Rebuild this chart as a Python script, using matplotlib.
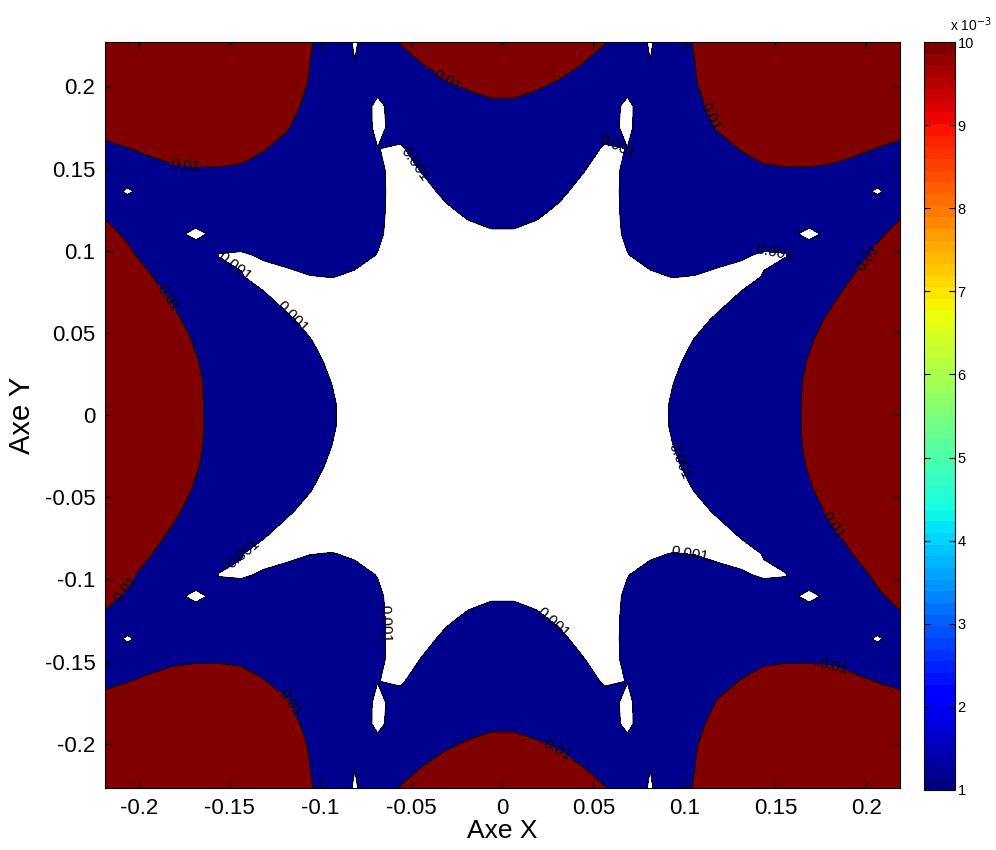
import numpy as np
import matplotlib
matplotlib.use("Agg")
import matplotlib.pyplot as plt
from matplotlib.colors import ListedColormap, Normalize
from matplotlib.cm import ScalarMappable

plt.rcParams['font.family'] = ['Liberation Sans', 'DejaVu Sans']

# log10(|B| / 1e-3) read off the picture on the x>=0, y>=0 quarter of the 36x36 grid
# rows go from y~0 upward, columns from x~0 to the right edge
log_b_quarter = [
    [-1.5, -1.32, -1.09, -0.86, -0.64, -0.41, -0.18, 0.04, 0.20, 0.37, 0.54, 0.71, 0.88, 1.065, 1.30, 1.50, 1.75, 1.98],
    [-1.5, -1.37, -1.14, -0.91, -0.69, -0.46, -0.23, -0.006, 0.17, 0.34, 0.52, 0.69, 0.87, 1.056, 1.29, 1.51, 1.74, 1.97],
    [-1.32, -1.30, -1.10, -0.89, -0.69, -0.48, -0.28, -0.07, 0.11, 0.30, 0.48, 0.65, 0.84, 1.024, 1.25, 1.47, 1.70, 1.93],
    [-1.11, -1.18, -1.11, -0.95, -0.80, -0.57, -0.37, -0.17, 0.023, 0.21, 0.40, 0.58, 0.77, 0.96, 1.17, 1.38, 1.59, 1.81],
    [-0.89, -0.95, -0.94, -0.80, -0.64, -0.51, -0.45, -0.26, -0.11, 0.056, 0.27, 0.46, 0.67, 0.87, 1.07, 1.27, 1.45, 1.65],
    [-0.68, -0.75, -0.88, -0.63, -0.48, -0.30, -0.25, -0.20, -0.22, -0.11, 0.05, 0.23, 0.46, 0.70, 0.95, 1.15, 1.33, 1.52],
    [-0.47, -0.55, -0.72, -0.50, -0.33, -0.17, -0.043, 0.01, -0.01, -0.08, -0.114, 0.015, 0.25, 0.48, 0.76, 1.023, 1.21, 1.39],
    [-0.25, -0.31, -0.40, -0.415, -0.21, -0.01, 0.094, 0.15, 0.14, 0.11, 0.04, -0.04, -0.02, 0.51, 0.58, 0.85, 1.077, 1.25],
    [-0.04, -0.098, -0.235, -0.36, -0.14, 0.05, 0.19, 0.29, 0.30, 0.29, 0.25, 0.19, 0.22, -0.20, 0.22, 0.73, 0.94, 1.106],
    [0.128, 0.054, -0.066, -0.23, -0.14, 0.07, 0.23, 0.38, 0.44, 0.45, 0.45, 0.43, 0.43, 0.51, 0.54, 0.67, 0.79, 0.95],
    [0.29, 0.20, 0.072, -0.099, -0.14, 0.078, 0.26, 0.43, 0.57, 0.63, 0.67, 0.69, 0.71, 0.73, 0.74, 0.48, -0.15, 0.48],
    [0.45, 0.33, 0.19, 0.029, -0.148, 0.072, 0.28, 0.46, 0.63, 0.78, 0.85, 0.94, 0.97, 0.97, 0.94, 0.88, 0.79, 0.75],
    [0.61, 0.47, 0.34, 0.155, -0.04, 0.005, 0.26, 0.47, 0.69, 0.87, 1.019, 1.15, 1.18, 1.18, 1.15, 1.07, 0.99, 0.93],
    [0.77, 0.65, 0.52, 0.35, 0.14, -0.08, 0.25, 0.53, 0.79, 1.034, 1.19, 1.33, 1.40, 1.40, 1.37, 1.28, 1.20, 1.11],
    [0.93, 0.84, 0.72, 0.54, 0.18, -0.08, 0.24, 0.59, 0.90, 1.14, 1.35, 1.50, 1.61, 1.61, 1.58, 1.48, 1.39, 1.33],
    [1.12, 1.06, 0.945, 0.73, 0.41, 0.11, 0.31, 0.57, 0.976, 1.21, 1.44, 1.65, 1.80, 1.82, 1.79, 1.67, 1.59, 1.54],
    [1.33, 1.27, 1.17, 1.01, 0.74, 0.30, 0.005, 0.45, 1.01, 1.23, 1.47, 1.66, 1.88, 2.01, 2.00, 1.89, 1.80, 1.75],
    [1.55, 1.49, 1.30, 1.17, 1.035, 0.20, -0.03, 0.20, 1.15, 1.25, 1.48, 1.70, 1.93, 2.16, 2.22, 2.11, 2.00, 1.97],
]

x_half = 0.2185
y_half = 0.227
n_side = 36

contour_levels = [0.0, 1.0]          # 1e-3 and 1e-2 on the log scale above
level_text = {0.0: '0.001', 1.0: '0.01'}

ticks = [-0.2, -0.15, -0.1, -0.05, 0, 0.05, 0.1, 0.15, 0.2]
tick_text = ['-0.2', '-0.15', '-0.1', '-0.05', '0', '0.05', '0.1', '0.15', '0.2']
cbar_ticks = [1, 2, 3, 4, 5, 6, 7, 8, 9, 10]

# where the contour labels sit
label_spots = [
    (-0.174, 0.153), (-0.031, 0.2016), (0.1115, 0.180), (0.2005, 0.096),
    (-0.185, 0.0707), (0.183, -0.066), (-0.215, -0.098), (0.183, -0.150),
    (-0.1137, -0.173), (0.032, -0.200),
    (-0.048, 0.153), (0.062, 0.159), (-0.146, 0.092), (0.150, 0.0993),
    (-0.1165, 0.0585), (0.0978, -0.028), (-0.145, -0.0816), (0.103, -0.083),
    (-0.064, -0.127), (0.029, -0.125),
]

q = np.array(log_b_quarter)
upper = np.hstack([q[:, ::-1], q])
field = np.vstack([upper[::-1, :], upper])
x = np.linspace(-x_half, x_half, n_side)
y = np.linspace(-y_half, y_half, n_side)

fig = plt.figure(figsize=(9.96, 8.5), dpi=100)
ax = fig.add_axes([0.1054, 0.0729, 0.7982, 0.8776])

blue = '#00008f'
red = '#800000'
ax.contourf(x, y, field, levels=[0.0, 1.0, field.max() + 1], colors=[blue, red])
cs = ax.contour(x, y, field, levels=contour_levels, colors='k', linewidths=0.7)
ax.clabel(cs, fmt=level_text, manual=label_spots, inline=True, inline_spacing=1, fontsize=11)

ax.set_xlim(-x_half, x_half)
ax.set_ylim(-y_half, y_half)
ax.set_xticks(ticks)
ax.set_xticklabels(tick_text)
ax.set_yticks(ticks)
ax.set_yticklabels(tick_text)
ax.tick_params(direction='in', top=True, right=True, length=5, labelsize=16, pad=7)
ax.set_xlabel('Axe X', fontsize=19, labelpad=0)
ax.set_ylabel('Axe Y', fontsize=21, labelpad=6)
for s in ax.spines.values():
    s.set_linewidth(0.8)

cax = fig.add_axes([0.9277, 0.0706, 0.0311, 0.8799])
jet64 = ListedColormap(plt.cm.jet(np.linspace(0, 1, 64)))
sm = ScalarMappable(norm=Normalize(1, 10), cmap=jet64)
cb = fig.colorbar(sm, cax=cax, ticks=cbar_ticks)
cb.ax.tick_params(direction='in', length=4, labelsize=10.5, left=True, right=True, pad=2)
cb.outline.set_linewidth(0.8)
fig.text(950 / 996, 1 - 31 / 850, r'x 10$^{-3}$', fontsize=10)

fig.savefig('out.png', dpi=100)
